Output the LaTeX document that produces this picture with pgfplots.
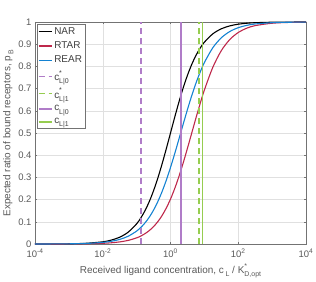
\documentclass[border=0pt]{standalone}
\usepackage{pgfplots}
\pgfplotsset{compat=1.18}
\usepackage{fontspec}
\setmainfont{Liberation Sans}
\definecolor{cnar}{RGB}{0,0,0}
\definecolor{crtar}{RGB}{190,40,75}
\definecolor{crear}{RGB}{20,130,210}
\definecolor{cpur}{RGB}{176,124,200}
\definecolor{cgrn}{RGB}{150,205,80}
\newcommand{\supsub}[2]{\makebox[0pt][l]{\raisebox{1.0ex}{\scriptsize #1}}\raisebox{-0.6ex}{\scriptsize #2}}
\newcommand{\sub}[1]{\raisebox{-0.6ex}{\scriptsize #1}}
\begin{document}
\begin{tikzpicture}
\begin{axis}[
  scale only axis, width=271bp, height=222bp,
  xmode=log, log basis x=10,
  xmin=1e-4, xmax=1e4, ymin=0, ymax=1,
  xtick={1e-4,1e-2,1,1e2,1e4},
  xticklabels={10\textsuperscript{-4},10\textsuperscript{-2},10\textsuperscript{0},10\textsuperscript{2},10\textsuperscript{4}},
  ytick={0,0.1,0.2,0.3,0.4,0.5,0.6,0.7,0.8,0.9,1},
  yticklabel style={/pgf/number format/assume math mode=true,/pgf/number format/fixed,/pgf/number format/precision=1},
  tick label style={font=\fontsize{9.5}{11}\selectfont, text=black!65},
  xticklabel style={yshift=-1.5bp},
  label style={font=\fontsize{10}{11}\selectfont, text=black!65},
  tick align=inside, tick pos=both,
  major tick length=2.5bp, minor tick length=1.5bp,
  axis line style={draw=black!55, line width=0.5bp},
  every tick/.style={black!55, line width=0.4bp},
  grid=both,
  major grid style={draw=black!12, line width=0.5bp},
  minor grid style={draw=black!18, dotted, line width=0.4bp},
  ymajorgrids=true, yminorgrids=false,
  xlabel={Received ligand concentration, c\,\sub{L} / K\supsub{*}{D,opt}},
  ylabel={Expected ratio of bound receptors, p\,\sub{B}},
  xlabel style={yshift=1bp},
  ylabel style={yshift=-2bp},
  legend style={at={(0.006,0.99)}, anchor=north west, font=\fontsize{10}{11}\selectfont, text=black!75, draw=black!55, line width=0.5bp, inner sep=1bp, row sep=2bp, cells={anchor=west}},
  legend image code/.code={\draw[#1] (0bp,0bp) -- (13bp,0bp);},
]
\addplot[cnar, line width=1.1bp, smooth] coordinates {
(1e-4,0.0001) (3.162e-4,0.000316) (1e-3,0.000999) (3.162e-3,0.003152) (1e-2,0.0099)
(1.7783e-2,0.01747) (3.1623e-2,0.03065) (5.6234e-2,0.05324) (0.1,0.0909)
(0.13335,0.11766) (0.17783,0.15098) (0.23714,0.19169) (0.31623,0.24025)
(0.42170,0.29661) (0.56234,0.35994) (0.74989,0.42854) (1,0.5)
(1.3335,0.57146) (1.7783,0.64006) (2.3714,0.70339) (3.1623,0.75975)
(4.2170,0.80831) (5.6234,0.84902) (7.4989,0.88234) (10,0.90909)
(17.783,0.94676) (31.623,0.96935) (56.234,0.98253) (100,0.9901)
(177.83,0.99441) (316.23,0.99685) (1000,0.999) (3162.3,0.99968) (10000,0.9999)
};
\addlegendentry{NAR}
\addplot[crtar, line width=1.1bp, smooth] coordinates {
(1e-4,0.00004) (3.162e-4,0.00012) (1e-3,0.000358) (3.162e-3,0.001068) (1e-2,0.003184)
(1.7783e-2,0.00549) (3.1623e-2,0.00944) (5.6234e-2,0.01621) (0.1,0.02768)
(0.13335,0.03606) (0.17783,0.04688) (0.23714,0.06072) (0.31623,0.0783)
(0.42170,0.1005) (0.56234,0.1280) (0.74989,0.1618) (1,0.2023)
(1.3335,0.2501) (1.7783,0.3047) (2.3714,0.3655) (3.1623,0.4310)
(4.2170,0.4989) (5.6234,0.5668) (7.4989,0.6324) (10,0.6935)
(17.783,0.7962) (31.623,0.8709) (56.234,0.9210) (100,0.9527)
(177.83,0.9721) (316.23,0.9837) (1000,0.99446) (3162.3,0.99814) (10000,0.99938)
};
\addlegendentry{RTAR}
\addplot[crear, line width=1.1bp, smooth] coordinates {
(1e-4,0.0001) (3.162e-4,0.000292) (1e-3,0.000852) (3.162e-3,0.00248) (1e-2,0.00721)
(1.7783e-2,0.01225) (3.1623e-2,0.02074) (5.6234e-2,0.03492) (0.1,0.0582)
(0.13335,0.0747) (0.17783,0.0955) (0.23714,0.1212) (0.31623,0.1528)
(0.42170,0.1907) (0.56234,0.2355) (0.74989,0.2870) (1,0.3447)
(1.3335,0.4073) (1.7783,0.4733) (2.3714,0.5400) (3.1623,0.6055)
(4.2170,0.6673) (5.6234,0.7239) (7.4989,0.7740) (10,0.8174)
(17.783,0.8843) (31.623,0.9289) (56.234,0.9571) (100,0.9744)
(177.83,0.9849) (316.23,0.9911) (1000,0.99693) (3162.3,0.99894) (10000,0.99964)
};
\addlegendentry{REAR}
\addplot[cpur, line width=1.4bp, dash pattern=on 6bp off 4bp] coordinates {(0.135,0) (0.135,1)};
\addlegendentry{c\supsub{*}{L|0}}
\addplot[cgrn, line width=1.4bp, dash pattern=on 6bp off 4bp] coordinates {(7.0,0) (7.0,1)};
\addlegendentry{c\supsub{*}{L|1}}
\addplot[cpur, line width=1.4bp] coordinates {(2.03,0) (2.03,1)};
\addlegendentry{c\sub{L|0}}
\addplot[cgrn, line width=1.4bp] coordinates {(8.9,0) (8.9,1)};
\addlegendentry{c\sub{L|1}}
\end{axis}
\pgfresetboundingbox
\path[use as bounding box] ([xshift=-35bp,yshift=-37bp]current axis.south west) rectangle ([xshift=10bp,yshift=22bp]current axis.north east);
\end{tikzpicture}
\end{document}
